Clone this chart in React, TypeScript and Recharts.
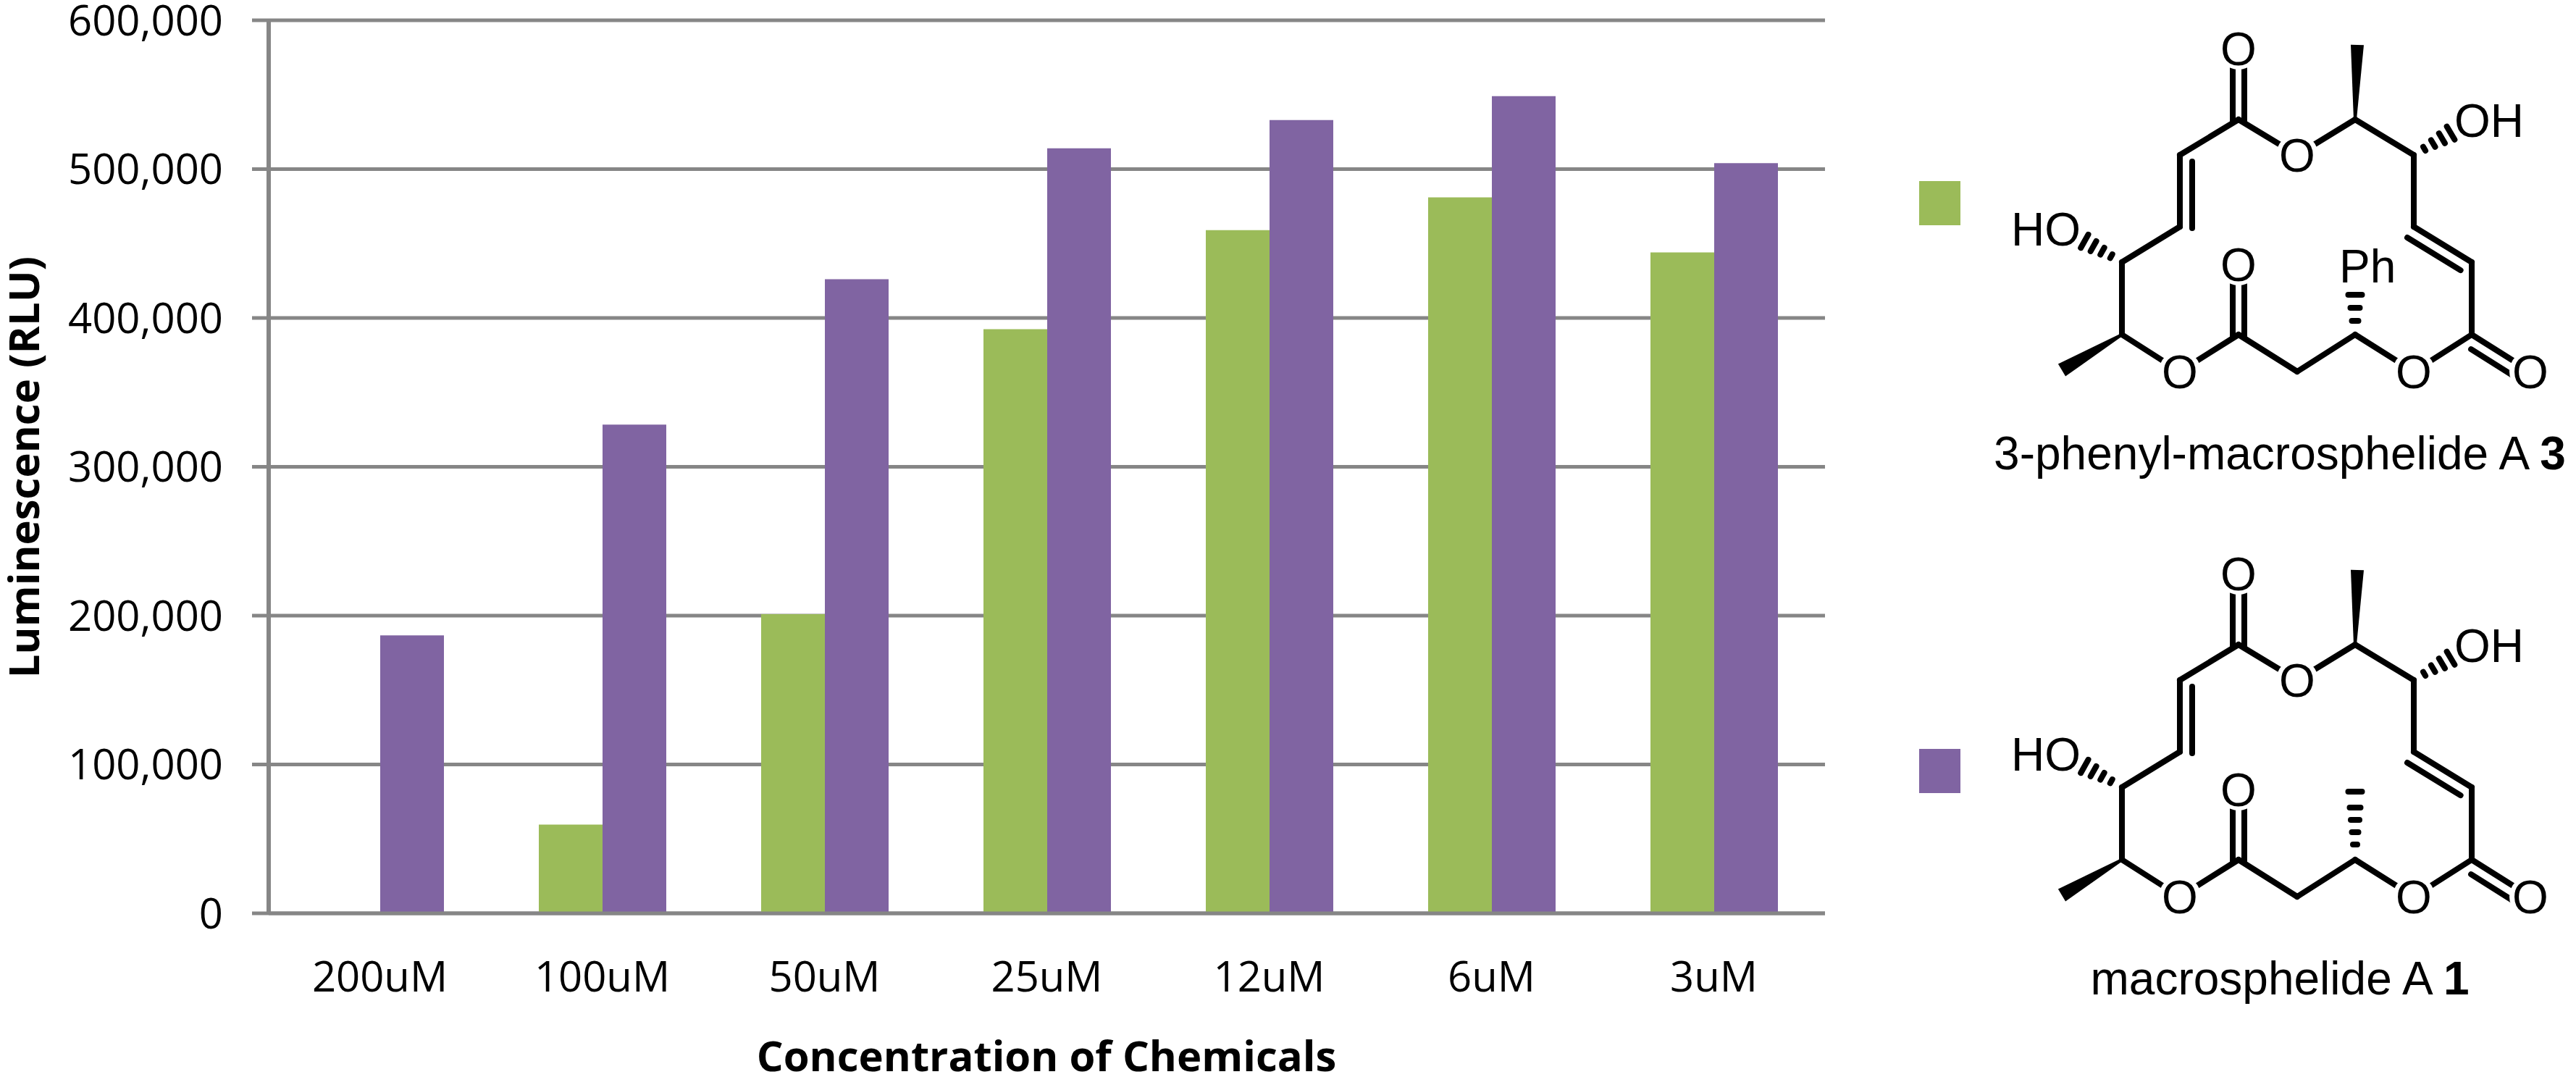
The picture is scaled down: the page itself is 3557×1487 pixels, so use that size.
import React from 'react'
import { BarChart, Bar, XAxis, YAxis, CartesianGrid, Customized } from 'recharts'

// values (RLU)
const concentrations = ['200uM', '100uM', '50uM', '25uM', '12uM', '6uM', '3uM']
const phenylMacrosphelide = [0, 59600, 201000, 392500, 459000, 481000, 444000]
const macrosphelide = [186700, 328400, 426000, 514000, 533000, 549000, 504000]
const valueTicks = [0, 100000, 200000, 300000, 400000, 500000, 600000]

const GREEN = '#9BBB59'
const PURPLE = '#8064A2'
const GRID = '#868686'
const AXIS_FONT = '"Open Sans", "Noto Sans", sans-serif'
const CHEM_FONT = '"Liberation Sans", Arial, sans-serif'

const rows = concentrations.map((name, i) => ({
  name,
  phenyl: phenylMacrosphelide[i],
  macro: macrosphelide[i],
}))

type Pt = [number, number]

// skeletal drawing of the macrolide ring, top structure coordinates
const ATOM: Record<string, Pt> = {
  C1: [3091, 165],
  O2: [3172, 214],
  C2: [3252, 165],
  C3: [3333, 214],
  C4: [3333, 313],
  C5: [3413, 362],
  C6: [3413, 462],
  O4: [3333, 513],
  C7: [3252, 462],
  C8: [3172, 513],
  C9: [3091, 462],
  O6: [3010, 513],
  C10: [2930, 462],
  C11: [2930, 362],
  C12: [3010, 313],
  C13: [3010, 214],
  O1: [3091, 67],
  O3: [3494, 513],
  O5: [3091, 365],
  OH: [3414, 166],
  HO: [2848, 316],
}

const RING_BONDS: [string, string][] = [
  ['C1', 'O2'], ['O2', 'C2'], ['C2', 'C3'], ['C3', 'C4'], ['C4', 'C5'],
  ['C5', 'C6'], ['C6', 'O4'], ['O4', 'C7'], ['C7', 'C8'], ['C8', 'C9'],
  ['C9', 'O6'], ['O6', 'C10'], ['C10', 'C11'], ['C11', 'C12'], ['C12', 'C13'],
  ['C13', 'C1'], ['C6', 'O3'],
]

const OXYGENS = ['O1', 'O2', 'O3', 'O4', 'O5', 'O6']

function Structure({ dy, phenyl }: { dy: number; phenyl: boolean }) {
  const p = (k: string): Pt => [ATOM[k][0], ATOM[k][1] + dy]
  const bond = { stroke: '#000', strokeWidth: 8, strokeLinecap: 'round' as const }

  const line = (a: Pt, b: Pt, key: string) => (
    <line key={key} x1={a[0]} y1={a[1]} x2={b[0]} y2={b[1]} {...bond} />
  )

  const offsetLine = (a: Pt, b: Pt, ox: number, oy: number, s0: number, s1: number, key: string) => {
    const dx = b[0] - a[0]
    const dyy = b[1] - a[1]
    return line(
      [a[0] + dx * s0 + ox, a[1] + dyy * s0 + oy],
      [a[0] + dx * s1 + ox, a[1] + dyy * s1 + oy],
      key,
    )
  }

  const wedge = (a: Pt, b: Pt, w: number, key: string) => {
    const dx = b[0] - a[0]
    const dyy = b[1] - a[1]
    const len = Math.hypot(dx, dyy)
    const nx = -dyy / len
    const ny = dx / len
    const pts = [
      [a[0] + nx * 2, a[1] + ny * 2],
      [b[0] + nx * w, b[1] + ny * w],
      [b[0] - nx * w, b[1] - ny * w],
      [a[0] - nx * 2, a[1] - ny * 2],
    ]
    return <polygon key={key} points={pts.map((q) => q.join(',')).join(' ')} fill="#000" />
  }

  const hash = (a: Pt, b: Pt, ts: number[], ws: number[], key: string) => {
    const dx = b[0] - a[0]
    const dyy = b[1] - a[1]
    const len = Math.hypot(dx, dyy)
    const nx = -dyy / len
    const ny = dx / len
    return (
      <g key={key}>
        {ts.map((t, i) => {
          const cx = a[0] + dx * t
          const cy = a[1] + dyy * t
          return (
            <line
              key={i}
              x1={cx - nx * ws[i]}
              y1={cy - ny * ws[i]}
              x2={cx + nx * ws[i]}
              y2={cy + ny * ws[i]}
              stroke="#000"
              strokeWidth={8}
              strokeLinecap="round"
            />
          )
        })}
      </g>
    )
  }

  const c6 = p('C6')
  const o3 = p('O3')

  return (
    <g>
      {RING_BONDS.map(([a, b]) => line(p(a), p(b), a + b))}
      {/* C=O and C=C second lines */}
      {line([p('C1')[0] - 8, p('O1')[1]], [p('C1')[0] - 8, p('C1')[1] + 2], 'o1a')}
      {line([p('C1')[0] + 8, p('O1')[1]], [p('C1')[0] + 8, p('C1')[1] + 4], 'o1b')}
      {line([p('C9')[0] - 8, p('O5')[1]], [p('C9')[0] - 8, p('C9')[1] + 2], 'o5a')}
      {line([p('C9')[0] + 8, p('O5')[1]], [p('C9')[0] + 8, p('C9')[1] + 4], 'o5b')}
      {offsetLine(c6, o3, -9, 15, 0.1, 1, 'o3b')}
      {offsetLine(p('C13'), p('C12'), 17, 0, 0.09, 1.02, 'db1')}
      {offsetLine(p('C4'), p('C5'), -9, 15, 0, 0.92, 'db2')}
      {/* stereo bonds */}
      {wedge(p('C2'), [p('C2')[0] + 3, p('C2')[1] - 103], 9, 'w1')}
      {wedge(p('C10'), [2847, 511 + dy], 10, 'w2')}
      {hash(p('C3'), p('OH'), [0.18, 0.33, 0.48, 0.63], [3, 5.5, 8, 10.5], 'h1')}
      {hash(p('C11'), p('HO'), [0.18, 0.33, 0.48, 0.63], [3, 5.5, 8, 10.5], 'h2')}
      {phenyl
        ? hash(p('C7'), [p('C7')[0], p('C7')[1] - 100], [0.19, 0.37, 0.55], [4.5, 6.5, 9.5], 'h3')
        : hash(p('C7'), [p('C7')[0], p('C7')[1] - 100], [0.21, 0.38, 0.55, 0.72, 0.94], [3, 4.5, 6, 7.5, 9.5], 'h3')}
      {/* atom labels */}
      {[...OXYGENS, 'OH', 'HO'].map((k) => (
        <circle key={'bg' + k} cx={p(k)[0]} cy={p(k)[1]} r={29} fill="#fff" />
      ))}
      {OXYGENS.map((k) => (
        <text key={'t' + k} x={p(k)[0]} y={p(k)[1] + 23} textAnchor="middle" fontFamily={CHEM_FONT} fontSize={64} fill="#000">
          O
        </text>
      ))}
      <text x={p('OH')[0] - 25} y={p('OH')[1] + 23} fontFamily={CHEM_FONT} fontSize={64} fill="#000">
        OH
      </text>
      <text x={p('HO')[0] + 25} y={p('HO')[1] + 23} textAnchor="end" fontFamily={CHEM_FONT} fontSize={64} fill="#000">
        HO
      </text>
      {phenyl && (
        <text x={3230} y={390 + dy} fontFamily={CHEM_FONT} fontSize={64} fill="#000">
          Ph
        </text>
      )}
    </g>
  )
}

function Overlay() {
  return (
    <g>
      <text
        x={1445}
        y={1479}
        textAnchor="middle"
        fontFamily={AXIS_FONT}
        fontWeight="bold"
        fontSize={58}
        fill="#000"
      >
        Concentration of Chemicals
      </text>
      <text
        x={54}
        y={645}
        transform="rotate(-90 54 645)"
        textAnchor="middle"
        fontFamily={AXIS_FONT}
        fontWeight="bold"
        fontSize={58}
        fill="#000"
      >
        Luminescence (RLU)
      </text>

      {/* legend keys, the structures stand in for the series names */}
      <rect x={2650} y={250} width={57} height={61} fill={GREEN} />
      <rect x={2650} y={1034} width={57} height={61} fill={PURPLE} />

      <Structure dy={0} phenyl />
      <Structure dy={725} phenyl={false} />

      <text x={3148} y={648} textAnchor="middle" fontFamily={CHEM_FONT} fontSize={64} fill="#000">
        3-phenyl-macrosphelide A <tspan fontWeight="bold">3</tspan>
      </text>
      <text x={3148} y={1373} textAnchor="middle" fontFamily={CHEM_FONT} fontSize={64} fill="#000">
        macrosphelide A <tspan fontWeight="bold">1</tspan>
      </text>
    </g>
  )
}

export default function App() {
  return (
    <div style={{ position: 'absolute', left: 0, top: 0, width: 3557, height: 1487, background: '#fff' }}>
      <BarChart
        width={3557}
        height={1487}
        data={rows}
        margin={{ top: 28, right: 1037, left: 71, bottom: 0 }}
        barGap={0}
      >
        <CartesianGrid horizontal vertical={false} stroke={GRID} strokeWidth={5} />
        <XAxis
          dataKey="name"
          interval={0}
          height={226}
          tickLine={false}
          tickSize={0}
          tickMargin={67}
          axisLine={{ stroke: GRID, strokeWidth: 5 }}
          tick={{ fontSize: 58, fill: '#000', fontFamily: AXIS_FONT }}
        />
        <YAxis
          domain={[0, 600000]}
          ticks={valueTicks}
          interval={0}
          width={300}
          tickSize={23}
          tickMargin={40}
          tickFormatter={(v: number) => v.toLocaleString('en-US')}
          tickLine={{ stroke: GRID, strokeWidth: 5 }}
          axisLine={{ stroke: GRID, strokeWidth: 6 }}
          tick={{ fontSize: 58, fill: '#000', fontFamily: AXIS_FONT }}
        />
        <Bar dataKey="phenyl" fill={GREEN} barSize={88} isAnimationActive={false} />
        <Bar dataKey="macro" fill={PURPLE} barSize={88} isAnimationActive={false} />
        <Customized component={<Overlay />} />
      </BarChart>
    </div>
  )
}
